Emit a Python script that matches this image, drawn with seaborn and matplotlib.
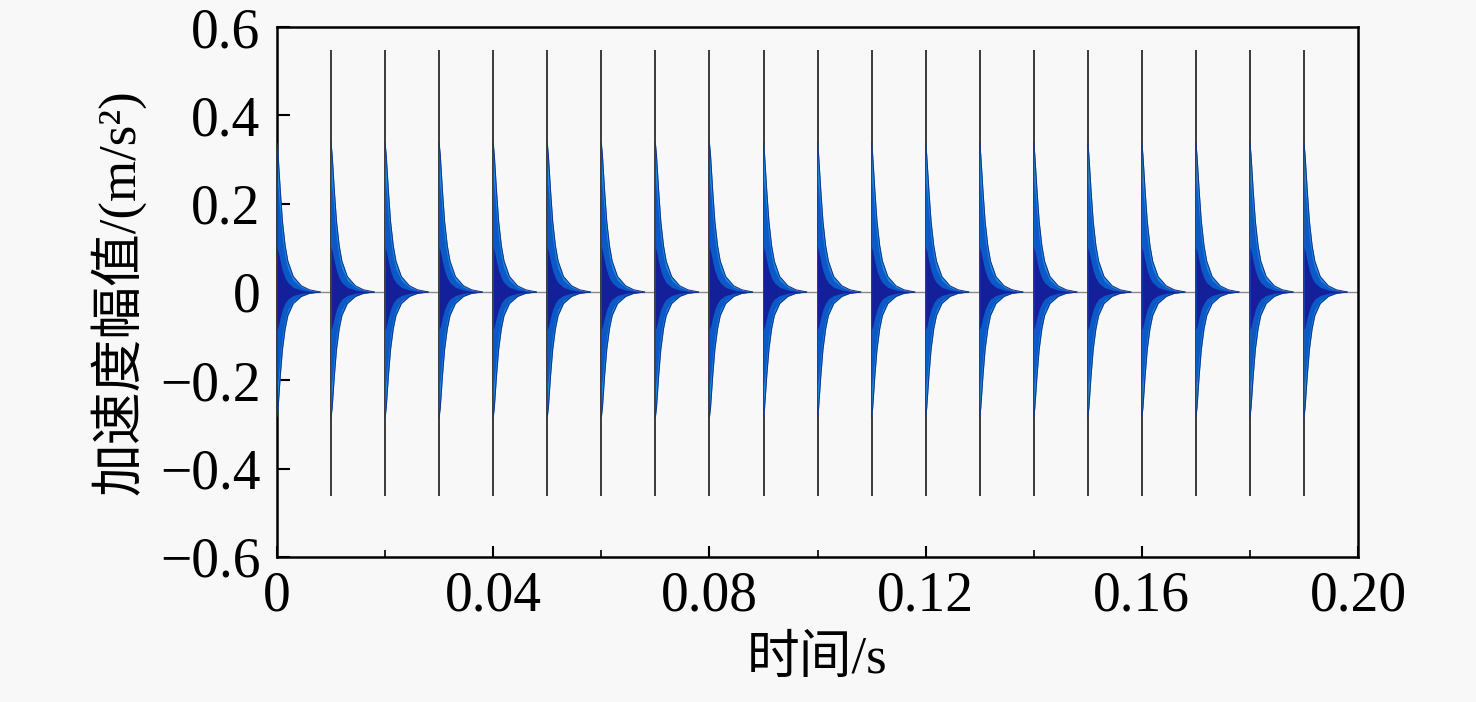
import numpy as np
import pandas as pd
import matplotlib.pyplot as plt
import seaborn as sns

# impulse start times (s), one hit every 0.01 s
impulse_times = [0.00, 0.01, 0.02, 0.03, 0.04, 0.05, 0.06, 0.07, 0.08, 0.09,
                 0.10, 0.11, 0.12, 0.13, 0.14, 0.15, 0.16, 0.17, 0.18, 0.19]
# thin spike extremes (m/s^2)
spike_top = [0.337, 0.548, 0.548, 0.548, 0.548, 0.548, 0.548, 0.548, 0.548, 0.548,
             0.548, 0.548, 0.548, 0.548, 0.548, 0.548, 0.548, 0.548, 0.548, 0.548]
spike_bottom = [-0.283, -0.462, -0.462, -0.462, -0.462, -0.462, -0.462, -0.462, -0.462, -0.462,
                -0.462, -0.462, -0.462, -0.462, -0.462, -0.462, -0.462, -0.462, -0.462, -0.462]
# decaying envelope of one ringing burst (offset after hit in s, amplitude in m/s^2)
env_offsets = [0.0, 0.0002, 0.0006, 0.0010, 0.0015, 0.0020, 0.0030, 0.0045, 0.0060, 0.0080]
env_upper = [0.337, 0.310, 0.230, 0.160, 0.105, 0.070, 0.035, 0.014, 0.005, 0.0]
env_lower = [-0.283, -0.262, -0.190, -0.130, -0.083, -0.053, -0.026, -0.010, -0.003, 0.0]

rows = []
for i, t0 in enumerate(impulse_times):
    for dt, up, lo in zip(env_offsets, env_upper, env_lower):
        rows.append({'burst': i, 'time': t0 + dt, 'upper': up, 'lower': lo})
env_df = pd.DataFrame(rows)

sns.set_theme(style="ticks")
plt.rcParams['font.family'] = ['Liberation Serif', 'Noto Sans CJK SC']

fig = plt.figure(figsize=(14.76, 7.02), dpi=100, facecolor='#f8f8f8')
ax = fig.add_axes([0.1877, 0.2066, 0.7324, 0.7549])
ax.set_facecolor('#f8f8f8')

# zero line of the signal between bursts
ax.axhline(0, color='#8a8a8a', lw=1.0, zorder=1)

# thin first-sample spikes
ax.vlines(impulse_times, spike_bottom, spike_top, color='#3a3a3a', lw=1.4, zorder=2)

# filled ringing bursts, layered light -> dark
light, mid, dark = '#1a8ae0', '#0b58c6', '#14209a'
for i, g in env_df.groupby('burst'):
    ax.fill_between(g['time'], g['lower'], g['upper'], color=light, lw=0, zorder=3)
    ax.fill_between(g['time'], g['lower'] * 0.75, g['upper'] * 0.75, color=mid, lw=0, zorder=4)
    ax.fill_between(g['time'], g['lower'] * 0.3, g['upper'] * 0.3, color=dark, lw=0, zorder=5)

sns.lineplot(data=env_df, x='time', y='upper', units='burst', estimator=None,
             color='#10308a', lw=0.7, ax=ax, zorder=6)
sns.lineplot(data=env_df, x='time', y='lower', units='burst', estimator=None,
             color='#10308a', lw=0.7, ax=ax, zorder=6)

ax.set_xlim(0, 0.20)
ax.set_ylim(-0.6, 0.6)
ax.set_xticks([0, 0.04, 0.08, 0.12, 0.16, 0.20])
ax.set_xticklabels(['0', '0.04', '0.08', '0.12', '0.16', '0.20'])
ax.set_xticks([0.02, 0.06, 0.10, 0.14, 0.18], minor=True)
ax.set_yticks([-0.6, -0.4, -0.2, 0, 0.2, 0.4, 0.6])
ax.set_yticklabels(['\u22120.6', '\u22120.4', '\u22120.2', '0', '0.2', '0.4', '0.6'])

ax.tick_params(axis='both', which='major', direction='in', labelsize=40, color='black',
               labelcolor='black', width=1.5)
ax.tick_params(axis='x', which='major', length=8, pad=10)
ax.tick_params(axis='x', which='minor', direction='in', length=5, width=1.2, color='black')
ax.tick_params(axis='y', which='major', length=9, pad=12)
for s in ax.spines.values():
    s.set_color('black')
    s.set_linewidth(1.8)

ax.set_xlabel('时间/s', fontsize=38, labelpad=9, color='black')
ax.set_ylabel('加速度幅值/(m/s²)', fontsize=38, labelpad=10, color='black')

fig.savefig('out.png', dpi=100, facecolor=fig.get_facecolor())
